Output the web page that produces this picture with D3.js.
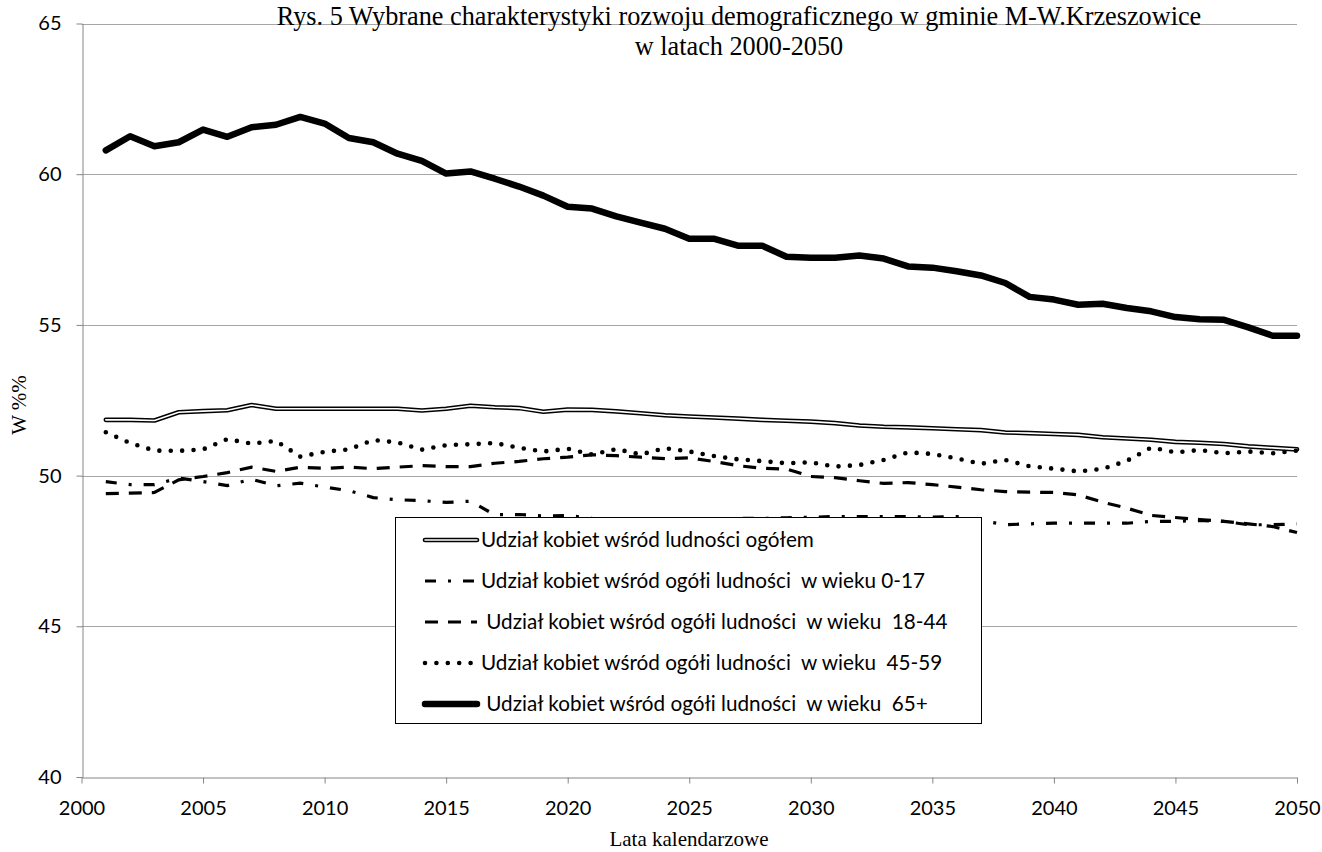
<!DOCTYPE html>
<html><head><meta charset="utf-8">
<script src="https://cdn.jsdelivr.net/npm/d3@7"></script>
<style>
body{margin:0;background:#fff;}
svg text{white-space:pre;}
</style></head><body>
<svg id="chart" width="1322" height="852"></svg>
<script>
const years = [2001,2002,2003,2004,2005,2006,2007,2008,2009,2010,
  2011,2012,2013,2014,2015,2016,2017,2018,2019,2020,
  2021,2022,2023,2024,2025,2026,2027,2028,2029,2030,
  2031,2032,2033,2034,2035,2036,2037,2038,2039,2040,
  2041,2042,2043,2044,2045,2046,2047,2048,2049,2050];

const totalShare = [51.85,51.85,51.83,52.10,52.14,52.17,52.34,52.22,52.22,52.22,
  52.22,52.22,52.22,52.16,52.22,52.32,52.27,52.24,52.12,52.19,
  52.18,52.13,52.07,52.00,51.96,51.93,51.89,51.85,51.82,51.79,
  51.74,51.66,51.62,51.60,51.57,51.54,51.51,51.43,51.41,51.38,
  51.35,51.27,51.23,51.19,51.12,51.09,51.05,50.97,50.92,50.87];

const age0_17 = [49.80,49.70,49.70,49.92,49.80,49.67,49.88,49.66,49.75,49.62,
  49.50,49.27,49.20,49.17,49.11,49.15,48.70,48.71,48.66,48.68,
  48.58,48.56,48.55,48.55,48.56,48.57,48.58,48.58,48.60,48.62,
  48.64,48.64,48.64,48.64,48.62,48.64,48.51,48.37,48.40,48.42,
  48.42,48.42,48.42,48.48,48.48,48.51,48.48,48.37,48.37,48.40];

const age18_44 = [49.40,49.42,49.44,49.86,49.97,50.10,50.28,50.14,50.28,50.24,
  50.28,50.23,50.28,50.33,50.30,50.30,50.41,50.47,50.56,50.61,
  50.69,50.66,50.61,50.56,50.59,50.47,50.33,50.24,50.22,49.97,
  49.93,49.83,49.74,49.77,49.70,49.62,49.53,49.47,49.45,49.44,
  49.36,49.12,48.92,48.68,48.61,48.54,48.48,48.40,48.31,48.11];

const age45_59 = [51.44,51.08,50.83,50.82,50.87,51.21,51.06,51.15,50.63,50.79,
  50.87,51.18,51.10,50.86,51.01,51.04,51.08,50.92,50.80,50.89,
  50.70,50.88,50.70,50.91,50.80,50.65,50.54,50.48,50.41,50.44,
  50.30,50.35,50.52,50.77,50.72,50.57,50.39,50.52,50.31,50.23,
  50.14,50.22,50.49,50.93,50.77,50.85,50.74,50.80,50.74,50.83];

const age65plus = [60.79,61.26,60.93,61.06,61.48,61.24,61.56,61.64,61.90,61.68,
  61.20,61.06,60.68,60.44,60.02,60.09,59.85,59.59,59.29,58.92,
  58.86,58.60,58.39,58.19,57.86,57.86,57.63,57.63,57.26,57.23,
  57.23,57.30,57.20,56.94,56.90,56.78,56.64,56.39,55.93,55.84,
  55.67,55.70,55.56,55.45,55.26,55.19,55.17,54.92,54.64,54.64];

const seriesNames = [
  "Udział kobiet wśród ludności ogółem",
  "Udział kobiet wśród ogółi ludności  w wieku 0-17",
  " Udział kobiet wśród ogółi ludności  w wieku  18-44",
  "Udział kobiet wśród ogółi ludności  w wieku  45-59",
  " Udział kobiet wśród ogółi ludności  w wieku  65+"
];

const xTicks = [2000,2005,2010,2015,2020,2025,2030,2035,2040,2045,2050];
const yTicks = [40,45,50,55,60,65];
const titleLines = ["Rys. 5 Wybrane charakterystyki rozwoju demograficznego w gminie M-W.Krzeszowice", "w latach 2000-2050"];
const xTitle = "Lata kalendarzowe";
const yTitle = "W %%";

// ---- drawing ----
const svg = d3.select('#chart');
const x = d3.scaleLinear().domain([2000, 2050]).range([81.5, 1297]);
const y = d3.scaleLinear().domain([40, 65]).range([777, 23.5]);
const axisColor = '#868686';
const gridColor = '#a6a6a6';
const tickFont = 'Lato, Calibri, Carlito, sans-serif';
const serif = '"Liberation Serif", "Times New Roman", serif';

function fitWidth(sel, baseSize, target) {
  const w = sel.node().getComputedTextLength();
  const s = w > 0 ? baseSize * target / w : baseSize;
  sel.style('font-size', s + 'px');
  return s;
}

// gridlines
svg.append('g').selectAll('line').data(yTicks.filter(d => d > 40)).join('line')
  .attr('x1', x(2000)).attr('x2', x(2050))
  .attr('y1', d => Math.round(y(d)) + 0.5).attr('y2', d => Math.round(y(d)) + 0.5)
  .attr('stroke', gridColor).attr('stroke-width', 1);

// axes
const gx = svg.append('g').attr('transform', `translate(0,${Math.round(y(40)) + 0.5})`)
  .call(d3.axisBottom(x).tickValues(xTicks).tickFormat(d3.format('d'))
    .tickSize(6).tickSizeOuter(0).tickPadding(17));
const gy = svg.append('g').attr('transform', `translate(${Math.round(x(2000)) + 0.5},0)`)
  .call(d3.axisLeft(y).tickValues(yTicks).tickSize(6).tickSizeOuter(0).tickPadding(15));
[gx, gy].forEach(g => {
  g.select('.domain').attr('stroke', axisColor);
  g.selectAll('.tick line').attr('stroke', axisColor);
  g.selectAll('.tick text').attr('fill', '#000').style('font-family', tickFont).style('font-size', '20px');
});

const line = d3.line().x((d, i) => x(years[i])).y(d => y(d));

const styles = [
  {data: totalShare, draw: (g, path) => {
      g.append('path').attr('d', path).attr('fill', 'none').attr('stroke', '#000').attr('stroke-width', 4.6).attr('stroke-linejoin', 'round').attr('stroke-linecap', 'round');
      g.append('path').attr('d', path).attr('fill', 'none').attr('stroke', '#fff').attr('stroke-width', 1.6).attr('stroke-linejoin', 'round').attr('stroke-linecap', 'round');
  }},
  {data: age0_17, draw: (g, path) => {
      g.append('path').attr('d', path).attr('fill', 'none').attr('stroke', '#000').attr('stroke-width', 3.2).attr('stroke-dasharray', '11 12 3 12');
  }},
  {data: age18_44, draw: (g, path) => {
      g.append('path').attr('d', path).attr('fill', 'none').attr('stroke', '#000').attr('stroke-width', 3.2).attr('stroke-dasharray', '13 10');
  }},
  {data: age45_59, draw: (g, path) => {
      g.append('path').attr('d', path).attr('fill', 'none').attr('stroke', '#000').attr('stroke-width', 4.6).attr('stroke-linecap', 'round').attr('stroke-dasharray', '0 11.4');
  }},
  {data: age65plus, draw: (g, path) => {
      g.append('path').attr('d', path).attr('fill', 'none').attr('stroke', '#000').attr('stroke-width', 6.5).attr('stroke-linejoin', 'round').attr('stroke-linecap', 'round');
  }}
];

const plot = svg.append('g');
styles.forEach(s => s.draw(plot.append('g'), line(s.data)));

// legend
const lg = svg.append('g');
lg.append('rect').attr('x', 395.5).attr('y', 517.5).attr('width', 586).attr('height', 206)
  .attr('fill', '#fff').attr('stroke', '#000').attr('stroke-width', 1);
const rowY = d3.scalePoint().domain(d3.range(seriesNames.length)).range([540, 704]);
const legendTexts = [];
seriesNames.forEach((name, i) => {
  const ry = rowY(i);
  const sym = d3.line()([[425, ry], [477, ry]]);
  styles[i].draw(lg.append('g'), sym);
  legendTexts.push(lg.append('text').attr('x', 481).attr('y', ry).attr('dy', '0.35em')
    .style('font-family', tickFont).style('font-size', '21px').attr('fill', '#000')
    .text(name));
});
const legendSize = fitWidth(legendTexts[1], 21, 444);
legendTexts.forEach(t => t.style('font-size', legendSize + 'px'));

// titles
const t1 = svg.append('text').attr('x', 739).attr('y', 25).attr('text-anchor', 'middle')
  .style('font-family', serif).style('font-size', '26px').text(titleLines[0]);
const titleSize = fitWidth(t1, 26, 925);
svg.append('text').attr('x', 739).attr('y', 55).attr('text-anchor', 'middle')
  .style('font-family', serif).style('font-size', titleSize + 'px').text(titleLines[1]);
svg.append('text').attr('x', 689).attr('y', 846).attr('text-anchor', 'middle')
  .style('font-family', serif).style('font-size', '21px').text(xTitle);
svg.append('text').attr('transform', 'translate(26,405) rotate(-90)').attr('text-anchor', 'middle')
  .style('font-family', serif).style('font-size', '21px').text(yTitle);
</script>
</body></html>
